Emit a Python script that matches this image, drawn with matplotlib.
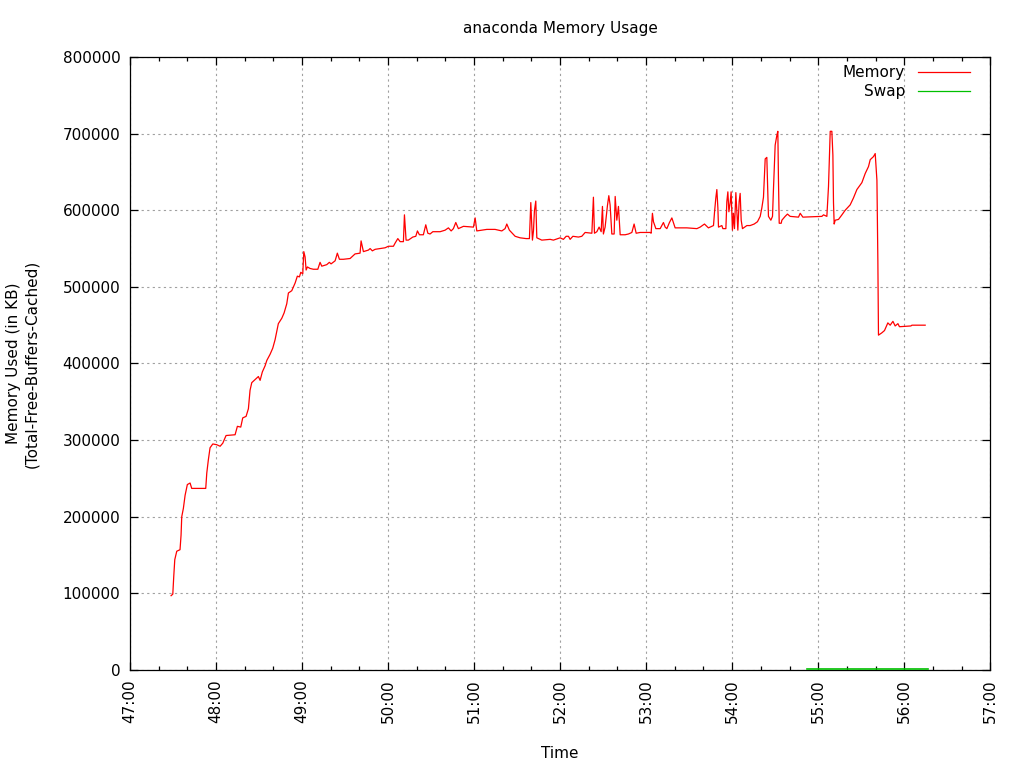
import matplotlib
matplotlib.use('Agg')
import matplotlib.pyplot as plt
from matplotlib.ticker import MultipleLocator, FuncFormatter

# time in minutes (47.5 == 47:30), memory in KB
mem_time = [
    47.477, 47.497, 47.508, 47.520, 47.543, 47.581, 47.593, 47.601, 47.620, 47.640,
    47.666, 47.698, 47.717, 47.880, 47.892, 47.910, 47.930, 47.962, 48.008, 48.047,
    48.078, 48.116, 48.221, 48.248, 48.287, 48.310, 48.349, 48.376, 48.395, 48.415,
    48.453, 48.492, 48.512, 48.538, 48.570, 48.590, 48.628, 48.659, 48.686, 48.724,
    48.764, 48.791, 48.822, 48.841, 48.880, 48.919, 48.945, 48.969, 48.985, 49.008,
    49.020, 49.035, 49.047, 49.062, 49.093, 49.131, 49.183, 49.209, 49.229, 49.287,
    49.317, 49.337, 49.384, 49.410, 49.434, 49.480, 49.558, 49.616, 49.674, 49.686,
    49.713, 49.771, 49.791, 49.817, 49.849, 49.965, 50.003, 50.062, 50.081, 50.113,
    50.140, 50.178, 50.190, 50.209, 50.236, 50.287, 50.322, 50.341, 50.364, 50.410,
    50.438, 50.462, 50.488, 50.520, 50.605, 50.663, 50.701, 50.733, 50.759, 50.787,
    50.817, 50.876, 50.992, 51.012, 51.031, 51.148, 51.244, 51.322, 51.360, 51.380,
    51.410, 51.477, 51.535, 51.605, 51.643, 51.659, 51.678, 51.690, 51.701, 51.717,
    51.729, 51.787, 51.884, 51.922, 52.000, 52.038, 52.070, 52.097, 52.116, 52.148,
    52.213, 52.252, 52.291, 52.369, 52.387, 52.399, 52.427, 52.453, 52.477, 52.492,
    52.503, 52.523, 52.550, 52.566, 52.581, 52.601, 52.628, 52.640, 52.659, 52.678,
    52.698, 52.756, 52.794, 52.834, 52.860, 52.884, 52.930, 53.047, 53.058, 53.073,
    53.085, 53.113, 53.163, 53.201, 53.221, 53.241, 53.271, 53.299, 53.317, 53.337,
    53.473, 53.590, 53.628, 53.666, 53.678, 53.724, 53.783, 53.794, 53.810, 53.822,
    53.834, 53.841, 53.880, 53.892, 53.927, 53.938, 53.950, 53.962, 53.977, 53.988,
    54.003, 54.015, 54.027, 54.043, 54.055, 54.066, 54.081, 54.093, 54.105, 54.120,
    54.171, 54.209, 54.256, 54.294, 54.326, 54.345, 54.364, 54.384, 54.403, 54.422,
    54.450, 54.469, 54.480, 54.500, 54.520, 54.531, 54.538, 54.547, 54.570, 54.578,
    54.616, 54.643, 54.674, 54.771, 54.791, 54.822, 55.043, 55.062, 55.101, 55.120,
    55.140, 55.159, 55.171, 55.178, 55.186, 55.198, 55.236, 55.276, 55.314, 55.372,
    55.410, 55.450, 55.508, 55.547, 55.585, 55.605, 55.643, 55.663, 55.683, 55.694,
    55.701, 55.740, 55.771, 55.810, 55.837, 55.869, 55.895, 55.927, 55.945, 56.078,
    56.090, 56.244,
]
mem_kb = [
    97000, 99000, 122000, 144000, 155000, 157000, 176000, 200000, 211000, 228000,
    242000, 244000, 237000, 237000, 257000, 274000, 290000, 295000, 294000, 292000,
    296000, 306000, 307000, 318000, 317000, 329000, 331000, 341000, 365000, 375000,
    379000, 383000, 378000, 389000, 397000, 404000, 412000, 420000, 431000, 452000,
    459000, 466000, 478000, 492000, 495000, 505000, 514000, 513000, 519000, 517000,
    546000, 539000, 522000, 526000, 524000, 523000, 523000, 532000, 527000, 529000,
    532000, 530000, 534000, 544000, 536000, 536000, 537000, 543000, 544000, 560000,
    546000, 548000, 550000, 547000, 549000, 551000, 553000, 553000, 557000, 563000,
    559000, 559000, 594000, 561000, 561000, 565000, 566000, 573000, 568000, 568000,
    581000, 570000, 569000, 572000, 572000, 574000, 577000, 573000, 576000, 584000,
    576000, 579000, 578000, 590000, 573000, 575000, 575000, 573000, 576000, 582000,
    574000, 566000, 564000, 563000, 563000, 610000, 561000, 573000, 599000, 612000,
    564000, 561000, 562000, 561000, 564000, 562000, 566000, 566000, 562000, 566000,
    565000, 566000, 571000, 570000, 617000, 570000, 572000, 578000, 572000, 605000,
    569000, 578000, 606000, 619000, 607000, 569000, 569000, 618000, 587000, 605000,
    568000, 568000, 569000, 571000, 582000, 570000, 571000, 571000, 570000, 596000,
    585000, 576000, 576000, 584000, 578000, 576000, 584000, 590000, 584000, 577000,
    577000, 576000, 578000, 581000, 582000, 577000, 580000, 596000, 616000, 627000,
    603000, 578000, 580000, 576000, 576000, 611000, 624000, 598000, 610000, 624000,
    574000, 596000, 576000, 623000, 598000, 574000, 611000, 622000, 587000, 576000,
    580000, 580000, 582000, 585000, 592000, 603000, 617000, 667000, 669000, 592000,
    587000, 592000, 627000, 685000, 698000, 703000, 642000, 583000, 583000, 587000,
    592000, 595000, 592000, 591000, 596000, 591000, 592000, 594000, 592000, 631000,
    703000, 703000, 672000, 610000, 582000, 587000, 588000, 594000, 600000, 607000,
    616000, 627000, 636000, 648000, 657000, 666000, 670000, 674000, 639000, 533000,
    437000, 440000, 443000, 453000, 450000, 455000, 449000, 452000, 448000, 449000,
    450000, 450000,
]

swap_time = [54.872, 55.300, 55.700, 56.279]
swap_kb = [1500, 1500, 1500, 1500]

plt.rcParams['font.family'] = ['DejaVu Sans']
plt.rcParams['font.size'] = 11

fig = plt.figure(figsize=(10.24, 7.68), dpi=100)
ax = fig.add_axes([0.127, 0.1276, 0.840, 0.7982])

ax.plot(mem_time, mem_kb, color='#ff0000', linewidth=0.9)
ax.plot(swap_time, swap_kb, color='#00c000', linewidth=1.2, zorder=5, clip_on=False)

ax.set_xlim(47, 57)
ax.set_ylim(0, 800000)
ax.xaxis.set_major_locator(MultipleLocator(1))
ax.xaxis.set_minor_locator(MultipleLocator(1 / 3))
ax.xaxis.set_major_formatter(FuncFormatter(lambda m, p: '%d:00' % round(m)))
ax.yaxis.set_major_locator(MultipleLocator(100000))
ax.yaxis.set_major_formatter(FuncFormatter(lambda v, p: '%d' % v))

ax.tick_params(which='both', direction='in', top=True, right=True, width=0.9)
ax.tick_params(which='major', length=6, pad=7)
ax.tick_params(which='minor', length=3)
ax.tick_params(axis='x', which='major', labelrotation=90)

ax.grid(True, which='major', color='#a0a0a0', linestyle=(0, (2, 3)), linewidth=0.8)
for s in ax.spines.values():
    s.set_linewidth(0.9)

ax.set_title('anaconda Memory Usage', fontsize=11, pad=17)
ax.set_xlabel('Time', labelpad=16)
ax.set_ylabel('Memory Used (in KB)\n(Total-Free-Buffers-Cached)', labelpad=17)

# gnuplot-style key: label on the left, sample on the right
ax.text(0.901, 0.9755, 'Memory', transform=ax.transAxes, ha='right', va='center')
ax.plot([0.916, 0.977], [0.9755, 0.9755], transform=ax.transAxes, color='#ff0000', linewidth=0.9)
ax.text(0.901, 0.9445, 'Swap', transform=ax.transAxes, ha='right', va='center')
ax.plot([0.916, 0.977], [0.9445, 0.9445], transform=ax.transAxes, color='#00c000', linewidth=0.9)

fig.savefig('out.png', dpi=100)
